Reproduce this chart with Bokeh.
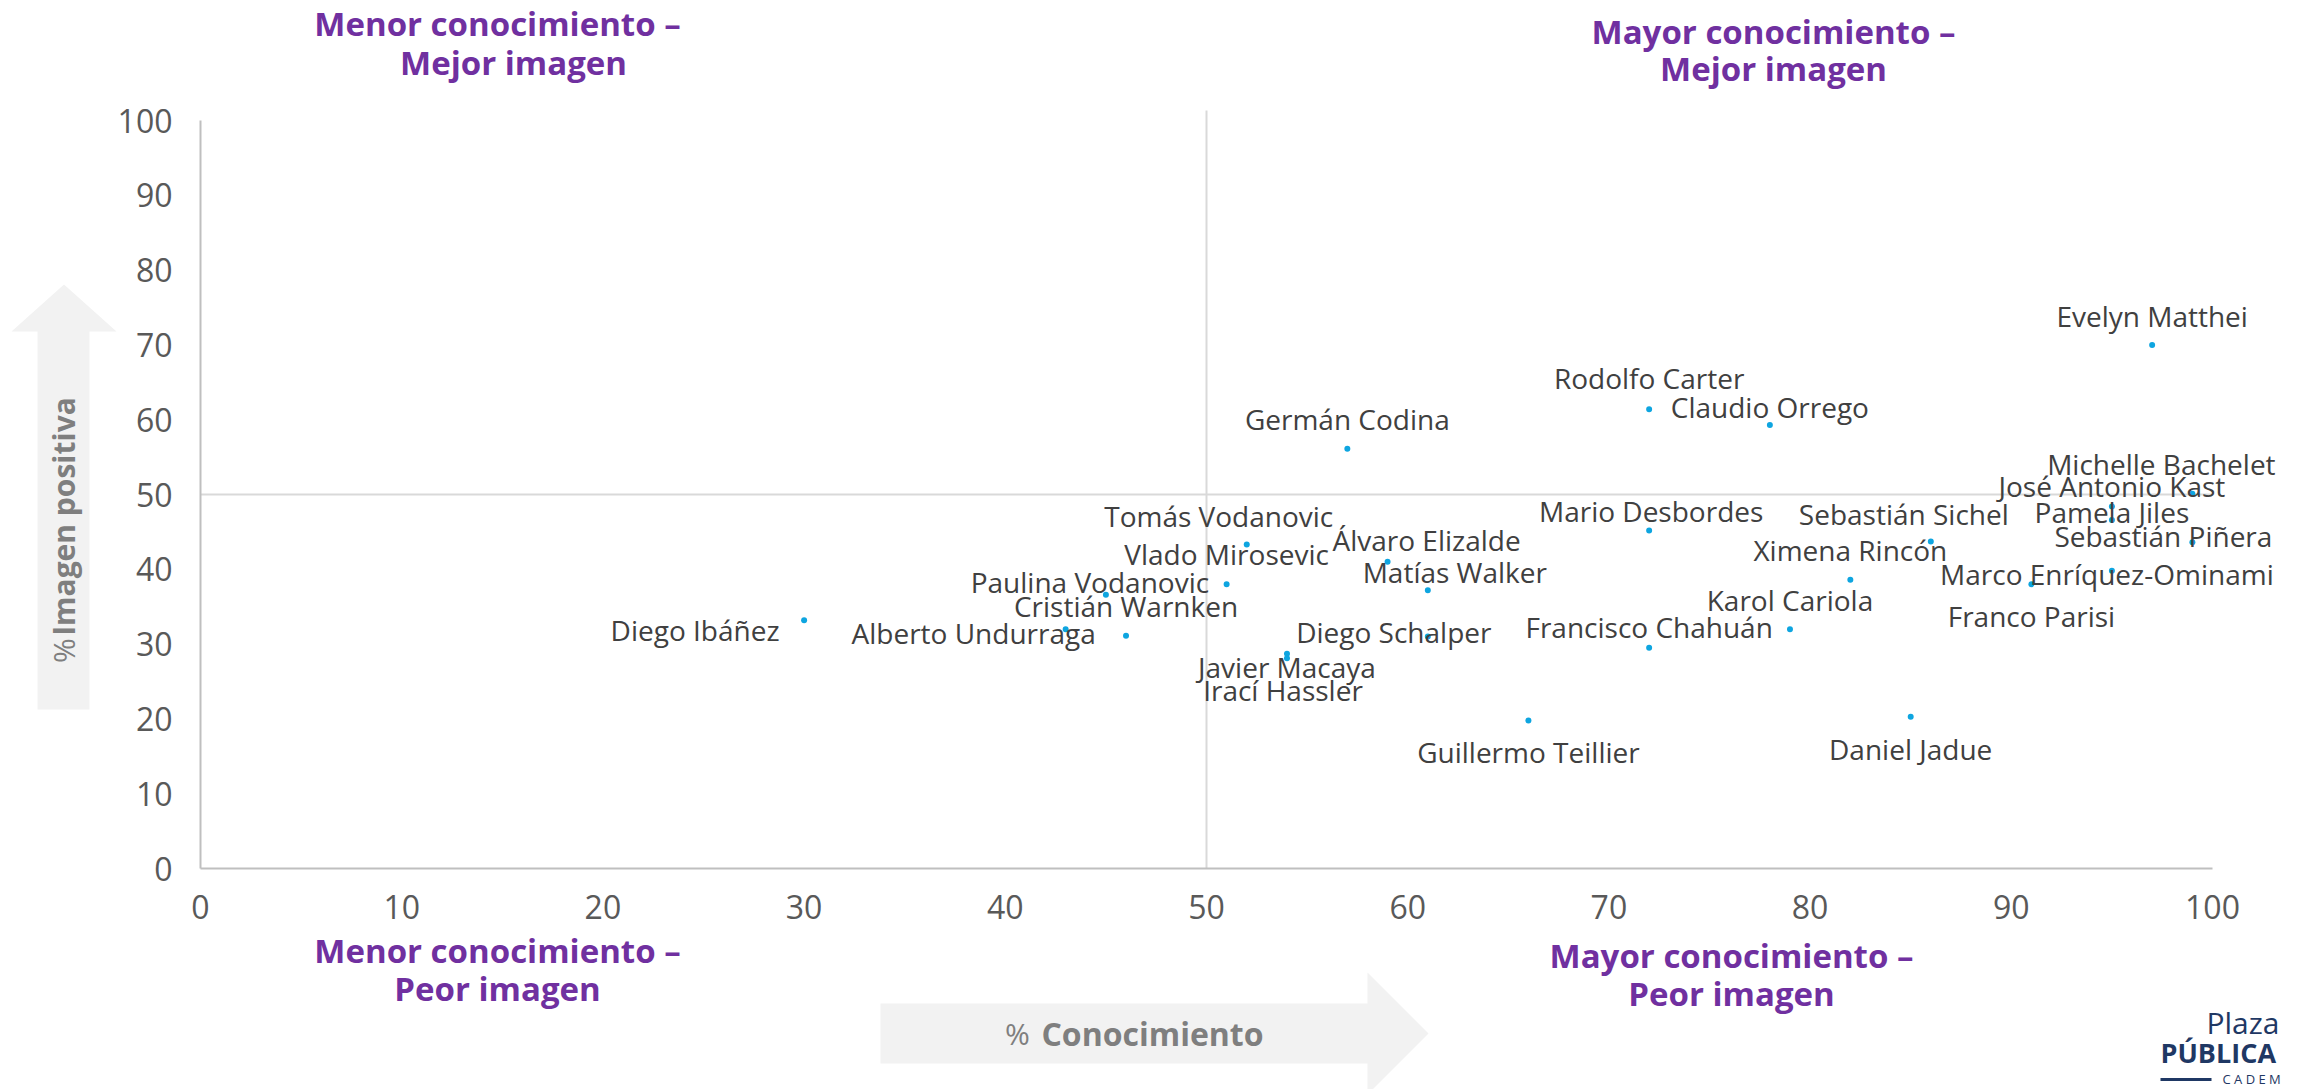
import math
from bokeh.plotting import figure
from bokeh.models import Range1d, Label, PolyAnnotation, ColumnDataSource, FixedTicker
from bokeh.embed import file_html
from bokeh.resources import INLINE
from bokeh.core.properties import value

# ---------------- data ----------------
names = [
    "Evelyn Matthei", "Rodolfo Carter", "Claudio Orrego", "Germán Codina",
    "Michelle Bachelet", "José Antonio Kast", "Pamela Jiles", "Sebastián Piñera",
    "Marco Enríquez-Ominami", "Franco Parisi", "Mario Desbordes", "Sebastián Sichel",
    "Ximena Rincón", "Karol Cariola", "Francisco Chahuán", "Guillermo Teillier",
    "Daniel Jadue", "Tomás Vodanovic", "Vlado Mirosevic", "Álvaro Elizalde",
    "Matías Walker", "Paulina Vodanovic", "Cristián Warnken", "Diego Ibáñez",
    "Alberto Undurraga", "Diego Schalper", "Javier Macaya", "Irací Hassler",
]
conocimiento = [97, 72, 78, 57, 99, 95, 95, 99, 95, 91, 72, 86, 82, 79, 72, 66,
                85, 52, 51, 59, 61, 45, 46, 30, 43, 61, 54, 54]
imagen_positiva = [70.0, 61.4, 59.3, 56.1, 50.1, 48.4, 46.6, 43.6, 39.8, 38.0, 45.2, 43.7,
                   38.6, 32.0, 29.5, 19.8, 20.3, 43.3, 38.0, 41.0, 37.2, 36.6, 31.1, 33.2,
                   32.0, 31.0, 28.7, 28.1]
x_ticks = [0, 10, 20, 30, 40, 50, 60, 70, 80, 90, 100]
y_ticks = [0, 10, 20, 30, 40, 50, 60, 70, 80, 90, 100]

# label offsets in screen pixels (layout only)
label_dx = [0, 0, 0, 0, -31, 0, 0, -29, -5, 0, 2, -27, 0, 0, 0, 0,
            0, -28, 0, 39, 27, -16, 0, -109, -92, -34, 0, -4]
label_dy = [-29, -31, -18, -30, -30, -20, -8, -6, 3, 32, -19, -28, -30, -29, -21, 32,
            32, -29, -30, -22, -18, -13, -30, 10, 4, -5, 13, 32]

# ---------------- figure ----------------
W, H = 2308, 1089

# pixel -> data helpers (frame covers whole canvas; axes at fixed locations)
def fx(px):
    return (px - 200) / 20.12

def fy(py):
    return (868 - py) / 7.48

p = figure(width=W, height=H, output_backend="svg", toolbar_location=None,
           x_range=Range1d(fx(0), fx(W)), y_range=Range1d(fy(H), fy(0)),
           min_border=0)
p.xgrid.visible = False
p.ygrid.visible = False
p.outline_line_color = None
p.background_fill_color = "white"
p.border_fill_color = "white"

for ax, ticks in ((p.xaxis[0], x_ticks), (p.yaxis[0], y_ticks)):
    ax.ticker = FixedTicker(ticks=ticks)
    ax.fixed_location = 0
    ax.bounds = (0, 100)
    ax.axis_line_color = "#BFBFBF"
    ax.axis_line_width = 2
    ax.major_tick_line_color = None
    ax.major_tick_out = 0
    ax.major_tick_in = 0
    ax.minor_tick_line_color = None
    ax.minor_tick_out = 0
    ax.major_label_text_font = "Open Sans"
    ax.major_label_text_font_size = "32px"
    ax.major_label_text_color = "#595959"
p.xaxis[0].major_label_standoff = 26
p.yaxis[0].major_label_standoff = 28

# quadrant dividers
p.segment(x0=[50], y0=[0], x1=[50], y1=[fy(110)], line_color="#D9D9D9", line_width=2)
p.segment(x0=[0], y0=[50], x1=[100], y1=[50], line_color="#D9D9D9", line_width=2)

# arrows (decorations)
grey = "#F2F2F2"
yarrow_x = [37, 37, 11, 63.5, 116, 89, 89]
yarrow_y = [709, 331, 331, 284, 331, 331, 709]
p.add_layout(PolyAnnotation(xs=[fx(v) for v in yarrow_x], ys=[fy(v) for v in yarrow_y],
                            fill_color=grey, fill_alpha=1, line_color=None))
xarrow_x = [880, 1367, 1367, 1428, 1367, 1367, 880]
xarrow_y = [1003, 1003, 972, 1033, 1094, 1063, 1063]
p.add_layout(PolyAnnotation(xs=[fx(v) for v in xarrow_x], ys=[fy(v) for v in xarrow_y],
                            fill_color=grey, fill_alpha=1, line_color=None))

# points and labels
src = ColumnDataSource(dict(x=conocimiento, y=imagen_positiva, name=names,
                            dx=label_dx, dy=label_dy))
p.scatter("x", "y", source=src, size=6, color="#0EA5E0", line_color=None)
p.text("x", "y", text="name", source=src, x_offset="dx", y_offset="dy",
       text_align="center", text_baseline="middle",
       text_font=value("Open Sans"), text_font_size="28px", text_color="#404040")

def lab(text, x, y, size, style="normal", color="#7F7F7F", align="center", angle=0, font="Open Sans"):
    p.add_layout(Label(x=fx(x), y=fy(y), text=text, text_align=align, text_baseline="middle",
                       text_font=font, text_font_size=size, text_font_style=style,
                       text_color=color, angle=angle))

lab("%", 1017, 1033, "30px")
lab("Conocimiento", 1152, 1033, "32px", "bold")
lab("%", 63, 650, "30px", angle=math.pi / 2)
lab("Imagen positiva", 63, 516, "30px", "bold", angle=math.pi / 2)

# quadrant titles
purple = "#7030A0"
for (l1, l2, cx1, cx2, y1, y2) in [
    ("Menor conocimiento –", "Mejor imagen", 497, 513, 23, 62),
    ("Mayor conocimiento –", "Mejor imagen", 1773, 1773, 31, 68),
    ("Menor conocimiento –", "Peor imagen", 497, 497, 950, 988),
    ("Mayor conocimiento –", "Peor imagen", 1731, 1731, 955, 993),
]:
    lab(l1, cx1, y1, "33px", "bold", purple)
    lab(l2, cx2, y2, "33px", "bold", purple)

# logo
navy = "#1F3864"
lab("Plaza", 2206, 1022, "30px", "normal", navy, align="left")
lab("PÚBLICA", 2160, 1052, "27px", "bold", navy, align="left")
lab("C A D E M", 2222, 1078, "13px", "normal", navy, align="left")
p.add_layout(PolyAnnotation(xs=[fx(v) for v in [2160, 2211, 2211, 2160]],
                            ys=[fy(v) for v in [1077.5, 1077.5, 1080.5, 1080.5]],
                            fill_color=navy, fill_alpha=1, line_color=None))

open("out.html", "w").write(file_html(p, INLINE))
